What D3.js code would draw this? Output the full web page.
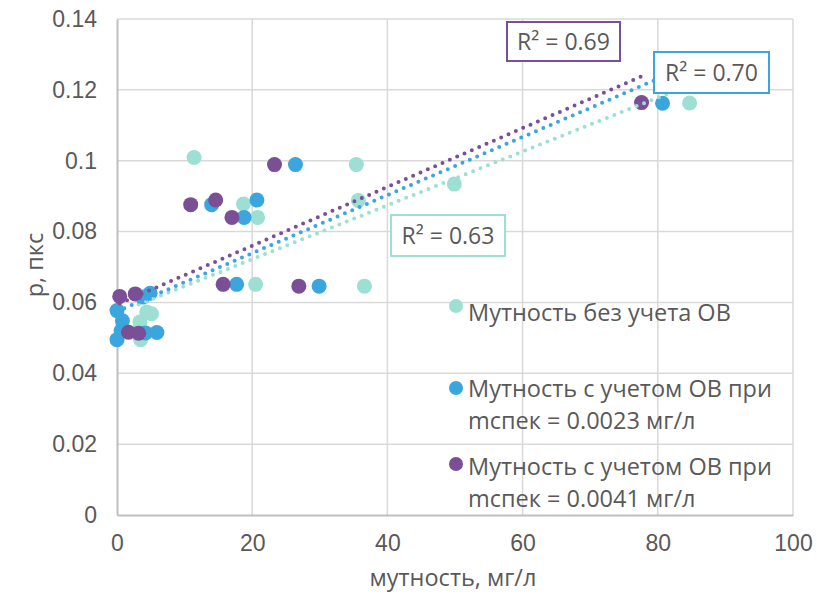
<!DOCTYPE html>
<html>
<head>
<meta charset="utf-8">
<script src="https://cdn.jsdelivr.net/npm/d3@7"></script>
<style>
  body { margin: 0; background: #fff; }
  text { fill: #595959; }
</style>
</head>
<body>
<svg id="chart"></svg>
<script>
// мутность (x) и p (y) для трёх серий
const seriesNames = [
    ['Мутность без учета ОВ'],
    ['Мутность с учетом ОВ при', 'mспек = 0.0023 мг/л'],
    ['Мутность с учетом ОВ при', 'mспек = 0.0041 мг/л']
];
const colors = ['#9ddfd3', '#3aa6dd', '#7b4f96'];

const tealPoints = [
    [11.4, 0.1009], [35.4, 0.0989], [18.7, 0.0878], [35.7, 0.0888], [20.8, 0.084],
    [49.9, 0.0934], [20.5, 0.0651], [36.6, 0.0646], [84.7, 0.1163], [4.4, 0.0573],
    [5.1, 0.0568], [3.4, 0.0545], [3.2, 0.0521], [3.5, 0.0495]
];
const bluePoints = [
    [14.0, 0.0876], [20.7, 0.0889], [18.8, 0.084], [26.4, 0.0989], [17.7, 0.0651],
    [29.9, 0.0646], [80.7, 0.1162], [4.9, 0.0626], [3.8, 0.0615], [0, 0.0577],
    [0.8, 0.0548], [0.6, 0.052], [0, 0.0495], [5.9, 0.0515], [4.2, 0.0514]
];
const purplePoints = [
    [10.9, 0.0876], [14.6, 0.0889], [17.0, 0.084], [23.3, 0.0989], [15.7, 0.0651],
    [26.9, 0.0646], [77.6, 0.1164], [0.4, 0.0617], [2.7, 0.0624], [1.7, 0.0516],
    [3.2, 0.0513]
];

// linear trendlines (intercept, slope)
const trendIntercepts = [0.0570, 0.0575, 0.0594];
const trendSlopes = [0.00076, 0.00082, 0.00083];
const r2Labels = ['R² = 0.63', 'R² = 0.70', 'R² = 0.69'];

const xTicks = [0, 20, 40, 60, 80, 100];
const yTicks = [0, 0.02, 0.04, 0.06, 0.08, 0.1, 0.12, 0.14];

const W = 817, H = 596;
const margin = { top: 19, right: 24, bottom: 81, left: 117 },
    width = W - margin.left - margin.right,
    height = H - margin.top - margin.bottom;

const svg = d3.select('#chart').attr('width', W).attr('height', H);
const g = svg.append('g').attr('transform', `translate(${margin.left},${margin.top})`);

const x = d3.scaleLinear().domain([0, 100]).range([0, width]);
const y = d3.scaleLinear().domain([0, 0.14]).range([height, 0]);

// grid
g.append('g')
    .selectAll('line')
    .data(yTicks.slice(1))
    .enter().append('line')
    .attr('x1', 0).attr('x2', width)
    .attr('y1', d => y(d)).attr('y2', d => y(d))
    .attr('stroke', '#d9d9d9').attr('stroke-width', 1.5);
g.append('g')
    .selectAll('line')
    .data(xTicks.slice(1))
    .enter().append('line')
    .attr('x1', d => x(d)).attr('x2', d => x(d))
    .attr('y1', 0).attr('y2', height)
    .attr('stroke', '#d9d9d9').attr('stroke-width', 1.5);

// axes
const xAxis = d3.axisBottom(x).tickValues(xTicks).tickSize(0).tickPadding(20).tickFormat(d3.format('d'));
const yAxis = d3.axisLeft(y).tickValues(yTicks).tickSize(0).tickPadding(20)
    .tickFormat(d => d === 0 ? '0' : String(+d.toFixed(2)));

const gx = g.append('g').attr('transform', `translate(0,${height})`).call(xAxis);
const gy = g.append('g').call(yAxis);
[gx, gy].forEach(a => {
    a.select('.domain').attr('stroke', '#bfbfbf').attr('stroke-width', 2);
    a.selectAll('.tick text')
        .style('font-family', '"Liberation Sans", Arial, sans-serif')
        .style('font-size', '23px')
        .style('fill', '#595959');
});

// markers
const allSeries = [tealPoints, bluePoints, purplePoints];
allSeries.forEach((pts, i) => {
    g.append('g')
        .selectAll('circle')
        .data(pts)
        .enter().append('circle')
        .attr('cx', d => x(d[0]))
        .attr('cy', d => y(d[1]))
        .attr('r', 7.5)
        .attr('fill', colors[i]);
});

// trendlines over the markers, across each series' x range
allSeries.forEach((pts, i) => {
    const [x0, x1] = d3.extent(pts, d => d[0]);
    const f = v => trendIntercepts[i] + trendSlopes[i] * v;
    g.append('line')
        .attr('x1', x(x0)).attr('y1', y(f(x0)))
        .attr('x2', x(x1)).attr('y2', y(f(x1)))
        .attr('stroke', colors[i])
        .attr('stroke-width', 4)
        .attr('stroke-linecap', 'round')
        .attr('stroke-dasharray', '0 8');
});

// R² boxes
const r2Boxes = [
    { x: 391, y: 215, w: 114, h: 41 },
    { x: 654, y: 52, w: 115, h: 41 },
    { x: 507, y: 22, w: 113, h: 39 }
];
r2Boxes.forEach((b, i) => {
    svg.append('rect')
        .attr('x', b.x).attr('y', b.y).attr('width', b.w).attr('height', b.h)
        .attr('fill', 'white').attr('stroke', colors[i]).attr('stroke-width', 2);
    svg.append('text')
        .attr('x', b.x + b.w / 2).attr('y', b.y + b.h / 2 + 8)
        .attr('text-anchor', 'middle')
        .style('font-family', '"Open Sans", sans-serif')
        .style('font-size', '23px')
        .text(r2Labels[i]);
});

// legend (no background, gridlines show through)
const legendItems = [
    { cy: 306, base: 321 },
    { cy: 388, base: 397 },
    { cy: 464, base: 475 }
];
legendItems.forEach((it, i) => {
    svg.append('circle').attr('cx', 456).attr('cy', it.cy).attr('r', 7).attr('fill', colors[i]);
    const t = svg.append('text')
        .attr('x', 468).attr('y', it.base)
        .style('font-family', '"Open Sans", sans-serif')
        .style('font-size', '23.5px');
    seriesNames[i].forEach((ln, j) => {
        t.append('tspan').attr('x', 468).attr('dy', j === 0 ? 0 : 32).text(ln);
    });
});

// axis titles
svg.append('text')
    .attr('x', margin.left + width / 2 - 2).attr('y', 586)
    .attr('text-anchor', 'middle')
    .style('font-family', '"Open Sans", sans-serif')
    .style('font-size', '23.5px')
    .text('мутность, мг/л');

svg.append('text')
    .attr('transform', `translate(43,${margin.top + height / 2 - 2}) rotate(-90)`)
    .attr('text-anchor', 'middle')
    .style('font-family', '"Open Sans", sans-serif')
    .style('font-size', '23.5px')
    .text('р, пкс');
</script>
</body>
</html>
